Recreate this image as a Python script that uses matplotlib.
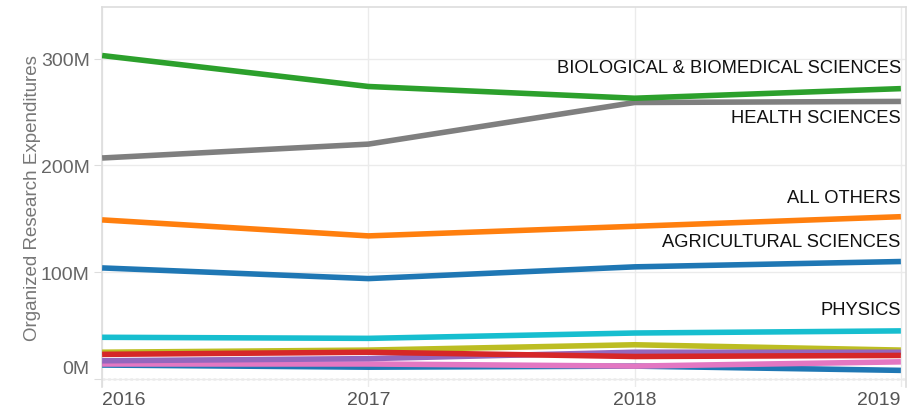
import matplotlib.pyplot as plt
import matplotlib.transforms as mtransforms
from matplotlib.ticker import FuncFormatter

plt.rcParams['font.family'] = ['Liberation Sans', 'DejaVu Sans']

years = [2016, 2017, 2018, 2019]

# organized research expenditures by field, in millions
biological = [303, 274, 263, 272]
health = [207, 220, 259, 260]
all_others = [149, 134, 143, 152]
agricultural = [104, 94, 105, 110]
physics = [39, 38, 43, 45]
olive_field = [25, 27, 32, 27]
red_field = [23, 25, 21, 22]
purple_field = [17, 19, 25, 25]
pink_field = [14, 14, 12, 16]
blue_field = [13, 11, 12, 8]

# (values, color, label text, label y in millions)
series = [
    (blue_field, '#1f77b4', None, None),
    (pink_field, '#e377c2', None, None),
    (olive_field, '#bcbd22', None, None),
    (purple_field, '#9467bd', None, None),
    (red_field, '#d62728', None, None),
    (physics, '#17becf', 'PHYSICS', 65),
    (agricultural, '#1f77b4', 'AGRICULTURAL SCIENCES', 129),
    (all_others, '#ff7f0e', 'ALL OTHERS', 170),
    (health, '#7f7f7f', 'HEALTH SCIENCES', 245),
    (biological, '#2ca02c', 'BIOLOGICAL & BIOMEDICAL SCIENCES', 292),
]

fig = plt.figure(figsize=(9.2, 4.14), dpi=100)
ax = fig.add_axes([0.111, 0.063, 0.874, 0.918])

for vals, color, label, ly in series:
    ax.plot(years, [v * 1e6 for v in vals], color=color, lw=4,
            solid_capstyle='butt', zorder=3)
    if label:
        ax.text(2019.0, ly * 1e6, label, ha='right', va='center',
                fontsize=13.2, color='#111111', zorder=4)

ax.set_xlim(2016, 2019.02)
ax.set_ylim(-7.5e6, 348.6e6)

ax.set_yticks([0, 100e6, 200e6, 300e6])
ax.yaxis.set_major_formatter(FuncFormatter(lambda v, p: '%dM' % round(v / 1e6)))
ax.set_xticks(years)
ax.set_xticklabels(['2016', '2017', '2018', '2019'])

ax.grid(True, color='#ebebeb', lw=1, zorder=0)
ax.axhline(0, color='#bbbbbb', lw=1, ls=(0, (2, 2)), zorder=1)

for side in ['top', 'left', 'right']:
    ax.spines[side].set_color('#dddddd')
    ax.spines[side].set_linewidth(1.2)
ax.spines['bottom'].set_visible(False)

ax.tick_params(axis='y', length=6, color='#dddddd', labelsize=14,
               labelcolor='#666666', pad=3)
ax.tick_params(axis='x', length=0, labelsize=14, labelcolor='#555555', pad=3)
xl = ax.get_xticklabels()
xl[0].set_ha('left')
xl[-1].set_ha('right')

# lift the 0M label so it sits above the baseline
yl = ax.get_yticklabels()
yl[0].set_transform(yl[0].get_transform() +
                    mtransforms.ScaledTranslation(0, 0.12, fig.dpi_scale_trans))

ax.set_ylabel('Organized Research Expenditures', fontsize=13.5,
              color='#777777', labelpad=0)

fig.savefig('out.png', dpi=100)
